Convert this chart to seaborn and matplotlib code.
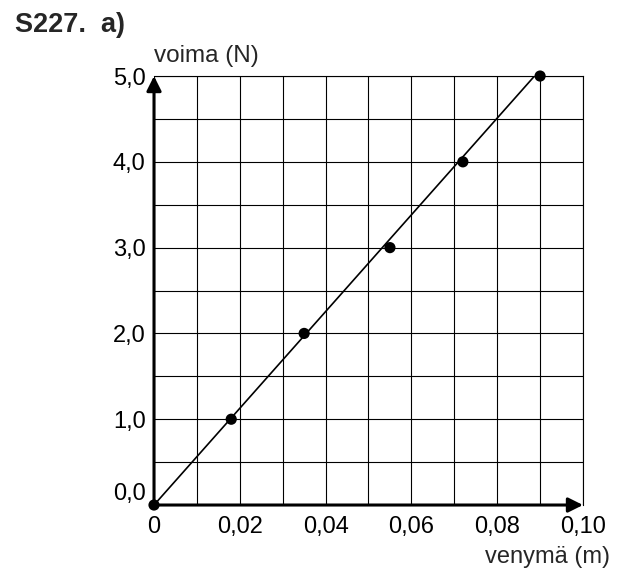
import matplotlib
matplotlib.use("Agg")
import matplotlib.pyplot as plt
import seaborn as sns
import pandas as pd
import numpy as np

# measured points: venymä (m) vs voima (N)
venyma = [0.0, 0.018, 0.035, 0.055, 0.072, 0.090]
voima = [0.0, 1.0, 2.0, 3.0, 4.0, 5.0]

# hand-drawn fit line, from origin to top of grid
fit_x = [0.0, 0.0887]
fit_y = [0.0, 5.0]

x_ticks = [0.0, 0.02, 0.04, 0.06, 0.08, 0.10]
x_labels = ["0", "0,02", "0,04", "0,06", "0,08", "0,10"]
y_ticks = [0.0, 1.0, 2.0, 3.0, 4.0, 5.0]
y_labels = ["0,0", "1,0", "2,0", "3,0", "4,0", "5,0"]

sns.set_style("white")
plt.rcParams["font.family"] = ["Liberation Sans", "DejaVu Sans"]

points = pd.DataFrame({"venyma": venyma, "voima": voima})
fit = pd.DataFrame({"venyma": fit_x, "voima": fit_y})

fig = plt.figure(figsize=(6.2, 5.7), dpi=100)
ax = fig.add_axes([0.2484, 0.114, 0.6919, 0.7526])

# grid first
ax.set_xlim(0, 0.10)
ax.set_ylim(0, 5.0)
ax.set_xticks(x_ticks)
ax.set_xticklabels(x_labels)
ax.set_yticks(y_ticks)
ax.set_yticklabels(y_labels)
ax.set_xticks(np.arange(0.01, 0.10, 0.02), minor=True)
ax.set_yticks(np.arange(0.5, 5.0, 1.0), minor=True)
ax.grid(True, which="both", color="black", linewidth=0.8)
ax.set_axisbelow(True)
ax.tick_params(which="both", length=0, labelsize=17, colors="black")
ax.tick_params(axis="x", pad=8)
ax.tick_params(axis="y", pad=6)
# 0,0 sits a bit above the x axis arrow
ax.get_yticklabels()[0].set_va("bottom")

sns.lineplot(data=fit, x="venyma", y="voima", color="black",
             linewidth=1.2, ax=ax)
sns.scatterplot(data=points, x="venyma", y="voima", color="black",
                s=65, edgecolor="none", clip_on=False, zorder=5, ax=ax)

ax.set_xlabel("")
ax.set_ylabel("")

# border of the grid
for side in ["top", "right"]:
    ax.spines[side].set_visible(True)
    ax.spines[side].set_color("black")
    ax.spines[side].set_linewidth(0.8)
for side in ["left", "bottom"]:
    ax.spines[side].set_visible(False)

# axis arrows
arrow = dict(arrowstyle="-|>", lw=2.2, color="black",
             mutation_scale=22, shrinkA=0, shrinkB=0)
ax.annotate("", xy=(0, 1), xytext=(0, 0), xycoords="axes fraction",
            arrowprops=arrow, annotation_clip=False)
ax.annotate("", xy=(1, 0), xytext=(0, 0), xycoords="axes fraction",
            arrowprops=arrow, annotation_clip=False)

ax.text(0.0, 1.02, "voima (N)", transform=ax.transAxes,
        ha="left", va="bottom", fontsize=17.5)
fig.text(0.984, 0.004, "venymä (m)", ha="right", va="bottom", fontsize=17)
fig.text(0.024, 0.933, "S227.  a)", ha="left", va="bottom",
         fontsize=19.5, fontweight="bold")

fig.savefig("out.png", dpi=100)
